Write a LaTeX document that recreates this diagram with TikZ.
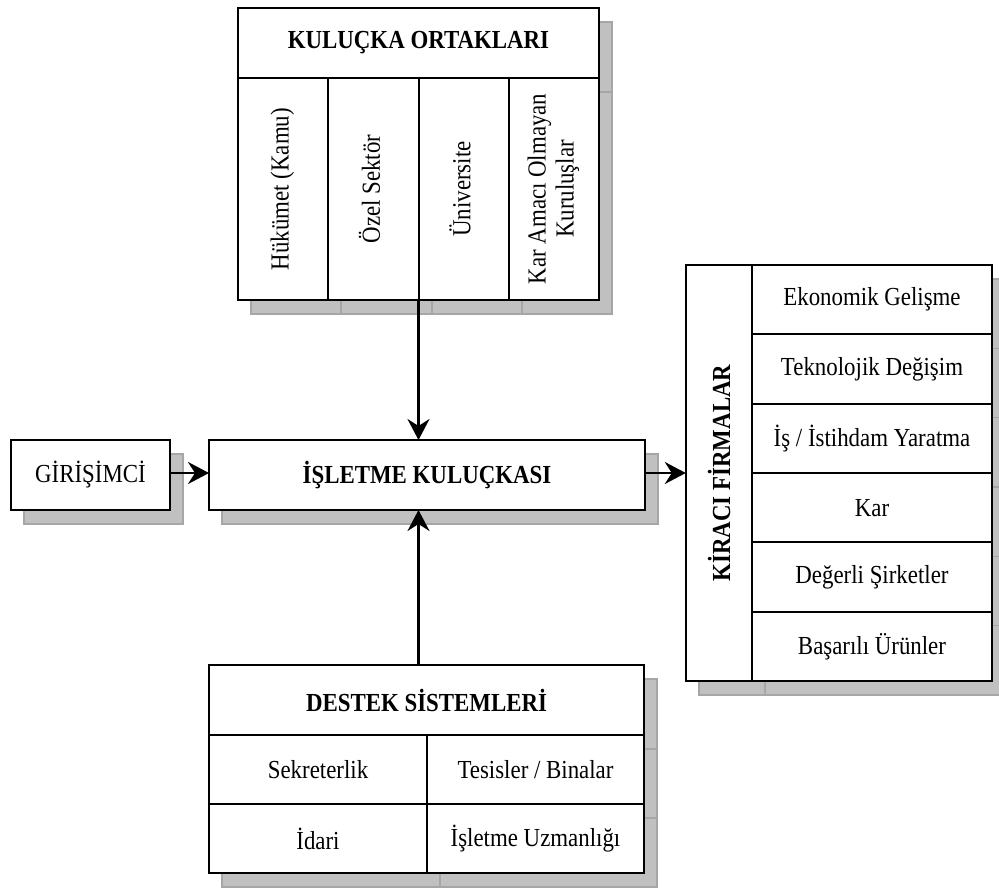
\documentclass[tikz,border=0pt]{standalone}
\usepackage{fontspec}
\usepackage{graphicx}
\setmainfont{Liberation Serif}[FakeStretch=0.88]
\usetikzlibrary{arrows.meta,fit,backgrounds}
\definecolor{shadowgray}{HTML}{C0C0C0}
\definecolor{shadowline}{HTML}{A6A6A6}
\newcommand\shadowof[1]{\path[shd] ([shift={(13pt,-14pt)}]#1.south west) rectangle ([shift={(13pt,-14pt)}]#1.north east);}
\newcommand\vtext[1]{\rotatebox{90}{\begin{tabular}{@{}c@{}}#1\end{tabular}}}
\begin{document}
\begin{tikzpicture}[x=1pt,y=-1pt,
  cell/.style={draw=black, line width=2pt, fill=white, inner sep=0pt, outer sep=0pt, align=center, font=\fontsize{26}{28}\selectfont},
  hdr/.style={cell, font=\fontsize{26}{28}\selectfont\bfseries},
  arr/.style={-{Stealth[length=21pt,width=22pt,inset=7pt]}, line width=2.4pt},
  shd/.style={fill=shadowgray, draw=shadowline, line width=1.5pt}
]
\useasboundingbox (0,0) rectangle (999,889);

% KULUCKA ORTAKLARI
\node[hdr, minimum width=361pt, minimum height=70pt] (kh) at (418.5,43) {KULUÇKA ORTAKLARI};
\node[cell, minimum width=90pt, minimum height=222pt] (k1) at (283,189) {\vtext{Hükümet (Kamu)}};
\node[cell, minimum width=91pt, minimum height=222pt] (k2) at (373.5,189) {\vtext{Özel Sektör}};
\node[cell, minimum width=90pt, minimum height=222pt] (k3) at (464,189) {\vtext{Üniversite}};
\node[cell, minimum width=90pt, minimum height=222pt] (k4) at (554,189) {\vtext{Kar Amacı Olmayan\\Kuruluşlar}};
\node[fit=(kh)(k1)(k4), inner sep=0pt] (ko) {};

% center
\node[hdr, minimum width=436pt, minimum height=70pt] (main) at (427,475) {İŞLETME KULUÇKASI};
\node[cell, minimum width=159pt, minimum height=70pt] (gir) at (90.5,475) {GİRİŞİMCİ};

% KIRACI FIRMALAR
\node[hdr, minimum width=66pt, minimum height=416pt] (fh) at (719,473) {\rotatebox{90}{KİRACI FİRMALAR}};
\node[cell, minimum width=240pt, minimum height=69.33pt] (f1) at (872,299.67) {Ekonomik Gelişme};
\node[cell, minimum width=240pt, minimum height=69.33pt] (f2) at (872,369) {Teknolojik Değişim};
\node[cell, minimum width=240pt, minimum height=69.33pt] (f3) at (872,438.33) {İş / İstihdam Yaratma};
\node[cell, minimum width=240pt, minimum height=69.33pt] (f4) at (872,507.67) {Kar};
\node[cell, minimum width=240pt, minimum height=69.33pt] (f5) at (872,577) {Değerli Şirketler};
\node[cell, minimum width=240pt, minimum height=69.33pt] (f6) at (872,646.33) {Başarılı Ürünler};
\node[fit=(fh)(f1)(f6), inner sep=0pt] (kf) {};

% DESTEK SISTEMLERI
\node[hdr, minimum width=435pt, minimum height=70pt] (dh) at (426.5,700) {DESTEK SİSTEMLERİ};
\node[cell, minimum width=218pt, minimum height=69pt] (d1) at (318,769.5) {Sekreterlik};
\node[cell, minimum width=217pt, minimum height=69pt] (d2) at (535.5,769.5) {Tesisler / Binalar};
\node[cell, minimum width=218pt, minimum height=69pt] (d3) at (318,838.5) {İdari};
\node[cell, minimum width=217pt, minimum height=69pt] (d4) at (535.5,838.5) {İşletme Uzmanlığı};
\node[fit=(dh)(d1)(d4), inner sep=0pt] (ds) {};

% shadows
\begin{scope}[on background layer]
\shadowof{kh}\shadowof{k1}\shadowof{k2}\shadowof{k3}\shadowof{k4}
\shadowof{main}\shadowof{gir}
\shadowof{fh}\shadowof{f1}\shadowof{f2}\shadowof{f3}\shadowof{f4}\shadowof{f5}\shadowof{f6}
\shadowof{dh}\shadowof{d1}\shadowof{d2}\shadowof{d3}\shadowof{d4}
\end{scope}

% arrows
\draw[arr] (ko.south) -- (ko.south |- main.north);
\draw[arr] (ko.south |- ds.north) -- (ko.south |- main.south);
\draw[arr] (gir.east |- 0,473) -- (main.west |- 0,473);
\draw[arr] (main.east |- 0,473) -- (kf.west |- 0,473);
\end{tikzpicture}
\end{document}
